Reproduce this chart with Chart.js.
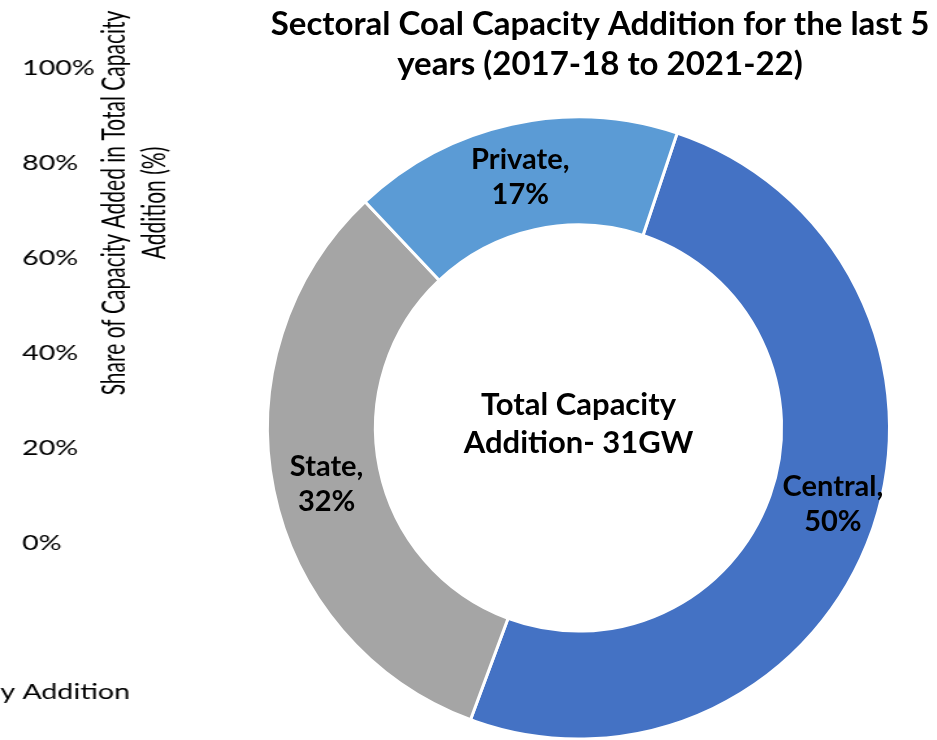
<!DOCTYPE html>
<html>
<head>
<meta charset="utf-8">
<title>Sectoral Coal Capacity Addition</title>
<script src="https://cdn.jsdelivr.net/npm/chart.js@4.4.1/dist/chart.umd.min.js"></script>
<style>
    html, body {
        margin: 0;
        padding: 0;
        background: #ffffff;
        overflow: hidden;
        width: 937px;
        height: 740px;
    }
    #donutChart {
        position: absolute;
        left: 0;
        top: 0;
    }
    /* left panel is drawn narrow and widened with scaleX */
    #sideWrap {
        position: absolute;
        left: 0;
        top: 0;
        width: 200px;
        height: 740px;
        transform: scaleX(1.3);
        transform-origin: 0 0;
    }
</style>
</head>
<body>
<canvas id="donutChart" width="937" height="780"></canvas>
<div id="sideWrap"><canvas id="sideChart" width="200" height="740"></canvas></div>

<script>
// Sector shares of coal capacity added, 2017-18 to 2021-22
const sectors = ['Central', 'State', 'Private'];
const shares = [50, 32, 17];
const sectorColors = ['#4472C4', '#A5A5A5', '#5B9BD5'];

const chartTitle = ['Sectoral Coal Capacity Addition for the last 5', 'years (2017-18 to 2021-22)'];
const centerText = ['Total Capacity', 'Addition- 31GW'];

// Axis of the neighbouring share chart
const shareTicks = [0, 0.2, 0.4, 0.6, 0.8, 1];
const shareAxisTitle = ['Share of Capacity Added in Total Capacity', 'Addition (%)'];
const shareXTitle = 'Share in Total Capacity Addition';

const FONT = 'Lato, Carlito, Calibri, sans-serif';

// Title sits a little right of the ring centre, so it is drawn here
const donutTitle = {
    id: 'donutTitle',
    afterDraw(chart) {
        const ctx = chart.ctx;
        ctx.save();
        ctx.fillStyle = '#000';
        ctx.textAlign = 'center';
        ctx.textBaseline = 'middle';
        ctx.font = `bold 33px ${FONT}`;
        chartTitle.forEach((line, i) => ctx.fillText(line, 600, 24 + i * 40));
        ctx.restore();
    }
};

// Category labels ("Central,\n50%") on each ring segment
const nudge = [[12, -10], [0, 4], [-3, 0]];
const sliceLabels = {
    id: 'sliceLabels',
    afterDatasetsDraw(chart) {
        const ctx = chart.ctx;
        const meta = chart.getDatasetMeta(0);
        ctx.save();
        ctx.fillStyle = '#000';
        ctx.textAlign = 'center';
        ctx.textBaseline = 'middle';
        ctx.font = `bold 29px ${FONT}`;
        meta.data.forEach((arc, i) => {
            const p = arc.getProps(['x', 'y', 'startAngle', 'endAngle', 'innerRadius', 'outerRadius'], true);
            const mid = (p.startAngle + p.endAngle) / 2;
            const r = (p.innerRadius + p.outerRadius) / 2;
            const x = p.x + Math.cos(mid) * r + nudge[i][0];
            const y = p.y + Math.sin(mid) * r + nudge[i][1];
            ctx.fillText(`${chart.data.labels[i]},`, x, y - 17);
            ctx.fillText(`${shares[i]}%`, x, y + 18);
        });

        // total in the hole
        const c = meta.data[0];
        ctx.font = `bold 31px ${FONT}`;
        ctx.fillText(centerText[0], c.x, c.y - 23);
        ctx.fillText(centerText[1], c.x, c.y + 15);
        ctx.restore();
    }
};

new Chart(document.getElementById('donutChart'), {
    type: 'doughnut',
    data: {
        labels: sectors,
        datasets: [{
            data: shares,
            backgroundColor: sectorColors,
            borderColor: '#ffffff',
            borderWidth: 3,
            radius: 311,
            clip: false
        }]
    },
    options: {
        responsive: false,
        animation: false,
        rotation: 18.5,
        cutout: '65.3%',
        layout: {
            padding: { left: 263, right: 43, top: 86, bottom: 10 }
        },
        plugins: {
            legend: { display: false },
            tooltip: { enabled: false },
            title: { display: false }
        }
    },
    plugins: [sliceLabels, donutTitle]
});

// Rotated axis title and the cut-off x title of the share chart
const sideText = {
    id: 'sideText',
    afterDraw(chart) {
        const ctx = chart.ctx;
        ctx.save();
        ctx.fillStyle = '#000';
        ctx.font = `22px ${FONT}`;
        ctx.textBaseline = 'middle';
        ctx.textAlign = 'right';
        ctx.fillText(shareXTitle, 100, 692);

        // condensed look: glyphs a bit taller across the axis
        ctx.font = `21px ${FONT}`;
        ctx.translate(103.5, 203);
        ctx.rotate(-Math.PI / 2);
        ctx.scale(1, 1.15);
        ctx.textAlign = 'center';
        ctx.fillText(shareAxisTitle[0], 0, -13.7);
        ctx.fillText(shareAxisTitle[1], 0, 13.7);
        ctx.restore();
    }
};

new Chart(document.getElementById('sideChart'), {
    type: 'bar',
    data: {
        labels: [''],
        datasets: [{ data: [], backgroundColor: sectorColors[0] }]
    },
    options: {
        responsive: false,
        animation: false,
        layout: {
            padding: { left: 17, right: 0, top: 68, bottom: 197 }
        },
        plugins: {
            legend: { display: false },
            tooltip: { enabled: false }
        },
        scales: {
            x: { display: false },
            y: {
                position: 'left',
                min: 0,
                max: 1,
                afterBuildTicks: (axis) => {
                    axis.ticks = shareTicks.map(v => ({ value: v }));
                },
                grid: { display: false },
                border: { display: false },
                ticks: {
                    color: '#000',
                    crossAlign: 'far',
                    padding: 0,
                    font: { family: FONT, size: 22 },
                    callback: (value) => `${Math.round(value * 100)}%`
                }
            }
        }
    },
    plugins: [sideText]
});
</script>
</body>
</html>
